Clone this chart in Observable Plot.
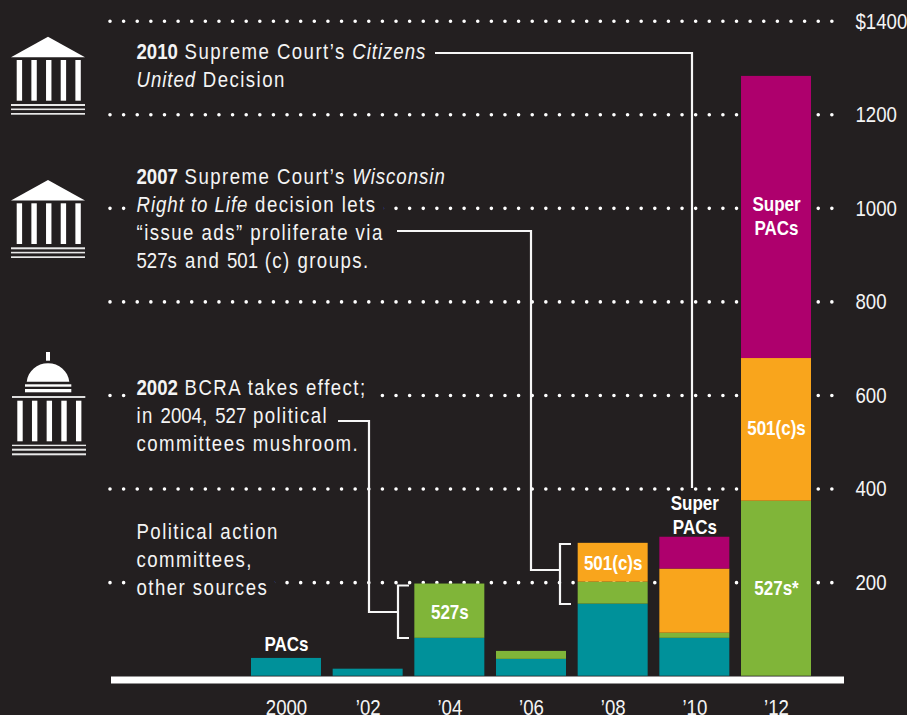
<!DOCTYPE html>
<html><head><meta charset="utf-8">
<script src="https://cdn.jsdelivr.net/npm/d3@7"></script>
<script src="https://cdn.jsdelivr.net/npm/@observablehq/plot@0.6"></script>
<style>html,body{margin:0;padding:0;background:#231f20}svg{display:block}</style>
</head><body><div id="chart"></div>
<script>
const years = ["2000","’02","’04","’06","’08","’10","’12"];
const pacs  = [38,15,81,36,154,81,0];
const s527  = [0,0,116,17,47,11,374];
const s501  = [0,0,0,0,83,137,305];
const superPacs = [0,0,0,0,0,68,603];
const seriesNames = ["PACs","527s","501(c)s","Super PACs"];
const seriesColors = ["#00919a","#80b539","#f9a51c","#ae006d"];
const ticks = [200,400,600,800,1000,1200,1400];
const barLabels = [
  {year:"2000", y:70,  text:"PACs"},
  {year:"’04",  y:139, text:"527s"},
  {year:"’08",  y:243, text:"501(c)s"},
  {year:"’10",  y:346, text:"Super\nPACs"},
  {year:"’12",  y:190, text:"527s*"},
  {year:"’12",  y:532, text:"501(c)s"},
  {year:"’12",  y:985, text:"Super\nPACs"}
];
const notes = [
  {top:39,  text:"**2010** Supreme Court’s *Citizens*\n*United* Decision"},
  {top:164, text:"**2007** Supreme Court’s *Wisconsin*\n*Right to Life* decision lets\n“issue ads” proliferate via\n527s and 501 (c) groups."},
  {top:375, text:"**2002** BCRA takes effect;\nin 2004, 527 political\ncommittees mushroom."},
  {top:519, text:"Political action\ncommittees,\nother sources"}
];
const bg = "#231f20", ink = "#f4f4f4";
const sans = "'Liberation Sans',Arial,sans-serif";
const squeeze = 0.81;
const rows = years.flatMap((year,i)=>[pacs,s527,s501,superPacs].map((v,k)=>({year,type:seriesNames[k],amount:v[i]})));

function svgGroup(draw){
  return ()=>{ const g=d3.create("svg:g"); draw(g); return g.node(); };
}
function temple(g,dy){
  g.append("path").attr("fill","#fff").attr("d",`M11 ${dy+57.3}L48 ${dy+36.7}L85 ${dy+57.3}Z`);
  columnsAndBase(g,dy,16.7,60,100.7,11,[[104,2],[108.5,1.6],[113,1.7]]);
}
function columnsAndBase(g,dy,x0,top,bot,bx,lines){
  for(let i=0;i<5;i++) g.append("rect").attr("fill","#fff").attr("x",x0+i*14.67).attr("y",dy+top).attr("width",5.4).attr("height",bot-top);
  for(const [y,h] of lines) g.append("rect").attr("fill","#e8e8e8").attr("x",bx).attr("y",dy+y).attr("width",74).attr("height",h);
}
const icons = svgGroup(g=>{
  temple(g,0); temple(g,143.3);
  g.append("rect").attr("fill","#fff").attr("x",46).attr("y",352).attr("width",4).attr("height",8.7);
  g.append("path").attr("fill","#fff").attr("d","M26.7 381.7C28 371 37 363.3 48 363.3C59 363.3 68 371 69.3 381.7Z");
  g.append("rect").attr("fill","#fff").attr("x",25).attr("y",384.3).attr("width",46.3).attr("height",2.4);
  g.append("rect").attr("fill","#fff").attr("x",25).attr("y",389).attr("width",46.3).attr("height",3.3);
  g.append("rect").attr("fill","#ddd").attr("x",12).attr("y",396).attr("width",73.3).attr("height",2);
  columnsAndBase(g,0,17.3,400.7,441.3,12,[[444.7,1.4],[448.7,2],[453.3,2]]);
});
const leaders = svgGroup(g=>{
  const paths=[
    "M435 53H692V488",
    "M397 231H531V570H560",
    "M571 544H560V604H571",
    "M338 421H369V612H398",
    "M409 585.5H398V638H409"
  ];
  for(const d of paths) g.append("path").attr("d",d).attr("fill","none").attr("stroke","#f6f6f6").attr("stroke-width",2.2);
});

const noteMark = (n,extra)=>Plot.text([n.text],{text:d=>d,frameAnchor:"top-left",lineAnchor:"top",textAnchor:"start",dx:26,dy:n.top,lineHeight:28/23,fontSize:23,...extra});

const chart = Plot.plot({
  width:907,height:715,marginLeft:110,marginRight:73,marginTop:0,marginBottom:39,
  style:{background:bg,color:ink,fontFamily:sans},
  x:{type:"band",domain:years,range:[251,811],paddingInner:0.143,paddingOuter:0,align:0,round:false,axis:null},
  y:{domain:[0,1400],range:[675.7,20.7],axis:null},
  color:{domain:seriesNames,range:seriesColors},
  marks:[
    Plot.ruleY(ticks,{stroke:"#fff",strokeWidth:3.6,strokeLinecap:"round",strokeDasharray:"0 13.62"}),
    ...notes.map(n=>noteMark(n,{fill:bg,stroke:bg,strokeWidth:24,className:"rich"})),
    icons,
    leaders,
    Plot.barY(rows,{x:"year",y:"amount",fill:"type",order:seriesNames}),
    Plot.ruleY([0],{y:d=>d,stroke:"#fff",strokeWidth:7,dy:3.7,insetLeft:1,insetRight:-10}),
    ...notes.map(n=>noteMark(n,{fill:ink,className:"rich"})),
    Plot.text(barLabels,{x:"year",y:"y",text:"text",fontWeight:"bold",fontSize:21,fill:"#fff",lineHeight:24/21}),
    Plot.axisX({domain:years,anchor:"bottom",tickSize:0,tickPadding:22,fontSize:23,label:null,color:ink}),
    Plot.axisY(ticks,{anchor:"right",tickSize:0,tickPadding:21,fontSize:23,label:null,tickFormat:d=>d===1400?"$1400":String(d),color:ink})
  ]
});
const NS="http://www.w3.org/2000/svg";
function run(parent,str,style){
  const s=document.createElementNS(NS,"tspan");
  s.textContent=str;
  if(style.weight)s.setAttribute("font-weight",style.weight);
  if(style.italic)s.setAttribute("font-style","italic");
  s.setAttribute("letter-spacing",style.ls);
  parent.appendChild(s);
}
chart.querySelectorAll(".rich tspan").forEach(t=>{
  const parts=t.textContent.split(/(\*\*[^*]+\*\*|\*[^*]+\*)/).filter(Boolean);
  t.textContent="";
  for(const p of parts){
    if(p.startsWith("**")) run(t,p.slice(2,-2),{weight:"bold",ls:0});
    else if(p.startsWith("*")) run(t,p.slice(1,-1),{italic:true,ls:1.2});
    else for(const q of p.split(/(\d+)/).filter(Boolean)) run(t,q,{ls:/^\d/.test(q)?0:1.8});
  }
});
chart.querySelectorAll("text").forEach(t=>{
  const tr=t.getAttribute("transform")||"";
  t.setAttribute("transform",(tr+` scale(${squeeze},1)`).trim());
});
document.getElementById("chart").appendChild(chart);
</script></body></html>
